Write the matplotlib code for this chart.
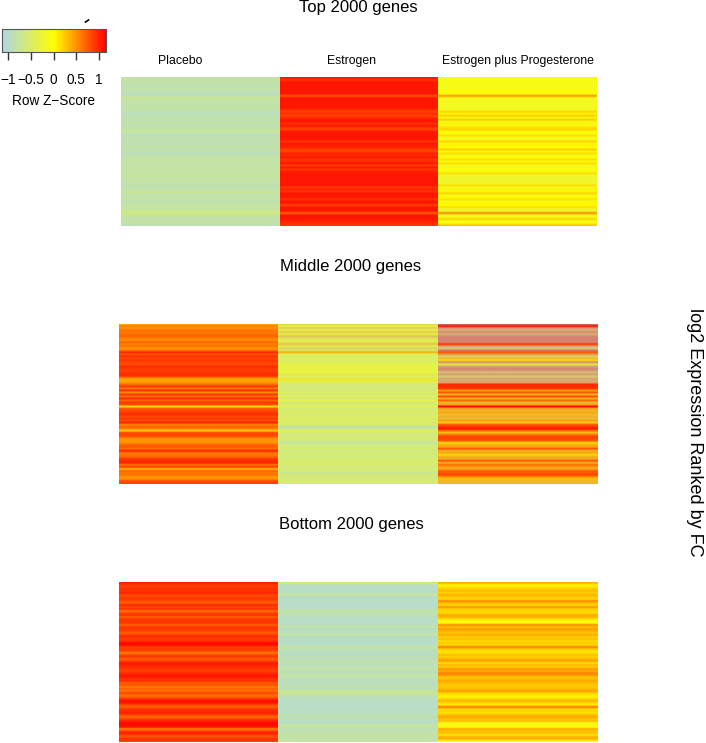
import numpy as np
import matplotlib
matplotlib.use('Agg')
import matplotlib.pyplot as plt
from matplotlib.colors import LinearSegmentedColormap, Normalize

plt.rcParams['font.family'] = ['Liberation Sans', 'DejaVu Sans']

# row z-scores, top row first
top_placebo = [-.85,-.8,-.85,-.85,-.9,-.85,-.85,-.9,-.95,-.9,
               -.7,-.85,-.85,-.85,-.85,-.85,-.85,-.9,-.95,-.9,
               -.85,-.9,-.85,-.85,-.9,-.85,-.8,-.75,-.9,-.95,
               -.85,-.9,-.85,-.9,-.85,-.85,-.9,-.85,-.95,-.85,
               -.85,-.85,-.8,-.85,-.85,-.8,-.85,-.8,-.8,-.8,
               -.8,-.85,-.8,-.9,-.85,-.9,-.8,-.8,-.75,-.9,
               -.8,-.8,-.9,-.8,-.85,-.8,-.8,-.7,-.65,-.75,
               -.8,-.9,-.8,-.85,-.9]
top_estrogen = [1.05,.9,1.05,1.05,1.05,1.05,1.05,1.05,1.05,.75,
                1.05,1.05,1.05,1.05,1.05,1.05,.95,.85,.95,.85,
                .95,1.05,1.05,.9,1.05,.9,.85,1.05,1.05,1.05,
                1.05,1.05,.9,1.05,1,1,.85,.85,1,.95,
                1.05,.9,.95,1.05,.85,1.05,.9,1,1.05,1.05,
                1.05,1.05,1.05,1.05,1.05,.9,1,.9,1.05,1.05,
                1.05,.9,1.05,1.05,.85,1.05,1.05,1.05,.7,1.05,
                1.05,1.05,1,.95,.9]
top_prog = [-.12,-.12,-.08,-.12,-.12,-.12,-.08,.0,-.12,.5,
            -.12,-.12,-.18,-.12,-.18,-.18,-.12,.2,.0,.25,
            .0,.25,-.12,.05,-.12,.15,.2,.0,-.08,.15,
            -.12,-.12,.2,-.08,.05,.0,.25,.0,.15,-.12,
            .0,.15,-.08,.15,-.12,-.18,.0,-.12,.15,-.22,
            -.22,-.22,-.22,-.22,.15,-.18,.05,-.12,.2,-.12,
            .0,.15,-.12,.05,.0,.15,-.22,-.22,.55,-.18,
            -.12,.2,-.12,-.08,.25]

mid_placebo = [.35,.6,.45,.65,.6,.65,.7,.6,.5,.7,
               .55,.65,.45,.6,1,.75,.95,.8,.9,.85,
               .8,.95,.9,.85,.9,.95,.9,.45,.4,.45,
               .65,.9,.6,.95,.5,.9,.65,.95,.7,.9,
               .8,.15,.75,.8,.9,.95,.8,.9,.8,1,
               .55,.7,.6,.2,.8,.85,.75,.5,.45,.5,
               .7,.75,.65,1,.65,.6,.7,.9,.95,1,
               .6,.9,.3,.7,.6,.65,.45,.5,.8,.85]
mid_estrogen_high = [.3,-.1,.35,-.1,.35,.0,.4,.2,-.1,.1,
                     .45,-.2,.3,-.2,.55,-.4,-.45,-.35,-.45,-.4,
                     -.38,-.35,-.35,-.35,-.3,.1,-.4,.1,.15,-.4,
                     -.6,-.6,-.6,-.6,-.5,-.6,-.45,-.6,-.35,-.6,
                     -.55,-.4,-.6,-.55,-.5,-.6,-.5,-.55,-.45,-.6,
                     -.5,-.85,-.8,-.35,-.55,-.65,-.6,-.55,-.65,-.85,
                     -.6,-.65,-.55,-.7,-.55,-.6,-.65,-.55,-.55,-.55,
                     -.55,-.65,-.6,-.55,-.8,-.55,-.65,-.6,-.55,-.55]
mid_estrogen_low = [-.9,-.5,-.9,-.5,-.9,-.6,-.9,-.9,-.7,-.8,
                    -.7,-.6,-.9,-.9,.2,-.5,-.6,-.5,-.6,-.5,
                    -.38,-.35,-.35,-.35,-.3,-.8,-.5,-.8,-.3,-.6,
                    -.6,-.6,-.6,-.6,-.5,-.6,-.45,-.6,-.35,-.6,
                    -.55,-.4,-.6,-.55,-.5,-.6,-.5,-.55,-.45,-.6,
                    -.5,-.85,-.8,-.35,-.55,-.65,-.6,-.55,-.65,-.85,
                    -.6,-.65,-.55,-.7,-.55,-.6,-.65,-.55,-.55,-.55,
                    -.55,-.65,-.6,-.55,-.8,-.55,-.65,-.6,-.55,-.55]
mid_prog_high = [1,1.1,.8,.5,.9,.5,.9,.95,.95,.9,
                 .95,.7,.2,1,.95,.9,.2,.6,.3,.9,
                 .1,.6,.9,.8,.4,.7,.3,.6,.6,.6,
                 1,1,.95,.65,.9,.6,.9,.7,.85,.6,
                 .8,1.1,.8,.6,.75,.5,.6,.55,.8,.4,
                 .8,.95,1.05,.8,.5,.75,.85,.85,.8,.15,
                 .7,.8,.95,.6,.8,.3,.75,.7,.85,.6,
                 .75,.85,.7,.9,.8,.9,.6,.5,.6,.55]
mid_prog_low = [-1.15,1.1,-1.15,-1.15,-1.15,-1.15,-1.15,-1.15,-1.15,-1.15,
                .9,-1.15,-1.15,-1.15,.6,-.6,-1.15,-.3,-.2,-1.15,
                -.6,-1.15,-1.15,-1.15,-1.15,-1.15,-1.15,-1.15,-1.15,-1.15,
                .9,.9,.9,.2,.6,-.3,.7,-.2,.5,-.4,
                -.2,1.1,-.3,-.4,-.2,-.4,-.5,-.5,-.1,-.3,
                .7,.85,1.05,.5,-.3,.5,.85,.8,.7,.15,
                -.2,-.1,.6,-.4,-.1,-.1,-.2,-.4,.7,-.4,
                .6,-.1,-.3,.6,.7,.8,.4,-.1,-.4,-.4]

bot_placebo = [1,.9,.85,.95,.9,1,.8,.85,.9,.8,
               .7,1,.8,.95,.6,.85,.95,.7,.9,.9,
               .9,.7,.9,.9,.85,.7,.9,.95,.85,.95,
               1.1,1.1,.85,.9,.85,.55,.85,.9,.7,.85,
               1.05,1,.95,.9,.85,.95,1.05,1.05,.9,.95,
               .7,.8,.55,.75,.6,.85,.65,.7,.95,1.1,
               1.05,.8,.7,.9,.95,1,.85,.65,.85,1,
               1.1,1.1,1.05,.55,.85,1.05,.85,.75,.95,.85]
bot_estrogen = [-.65,-.95,-1,-.95,-1,-.95,-.75,-1,-1,-.95,
                -1,-1,-1,-.95,-.8,-.9,-.85,-1,-.95,-1,
                -1,-.95,-.8,-1,-.95,-.9,-.8,-1,-.95,-1,
                -1,-.95,-.8,-.9,-.95,-.95,-1,-.9,-.95,-.85,
                -.9,-.95,-.9,-.8,-.95,-.9,-.8,-.9,-.9,-.95,
                -.95,-.95,-.85,-.95,-.75,-.7,-.85,-.95,-.95,-.95,
                -1,-1,-.95,-1,-.95,-1,-.8,-1,-.8,-1,
                -1,-.75,-.85,-.9,-.9,-.85,-.8,-.85,-.85,-.8]
bot_prog = [.35,.05,.1,.25,.3,.2,.35,.25,.15,.55,
            .3,.15,.5,.2,.2,.15,.4,.35,.15,-.05,
            -.05,.55,.25,.45,.35,.25,.4,.2,.3,.15,
            .25,.15,.6,.25,.1,.15,.3,.2,.35,.45,
            .1,.35,.2,.5,.35,.55,.5,.25,.3,.4,
            .3,.25,.25,.3,.45,.2,.1,.05,.2,.35,
            .15,.1,.65,.15,.2,.1,.3,.4,.25,.3,
            -.1,-.1,-.05,.4,.25,.3,.1,.35,.35,.0]

column_names = ['Placebo', 'Estrogen', 'Estrogen plus Progesterone']
bar_ticks = [-1, -0.5, 0, 0.5, 1]
bar_tick_labels = ['\u22121', '\u22120.5', '0', '0.5', '1']

W, H = 706, 743
cmap = LinearSegmentedColormap.from_list('bluered', ['lightblue', 'yellow', 'red'])
norm = Normalize(vmin=-1.15, vmax=1.15)


def stripes(values, values2=None):
    # two z-scores in one pixel row blend, like the squeezed heatmap in the original
    rgb = cmap(norm(np.array(values)))[:, :3]
    if values2 is not None:
        rgb = (rgb + cmap(norm(np.array(values2)))[:, :3]) / 2
    return rgb[:, None, :]


def panel_axes(x0, y0, x1, y1):
    ax = fig.add_axes([x0 / W, 1 - y1 / H, (x1 - x0) / W, (y1 - y0) / H])
    ax.axis('off')
    return ax


def draw_panel(x0, y0, x1, y1, columns):
    ax = panel_axes(x0, y0, x1, y1)
    for i, img in enumerate(columns):
        ax.imshow(img, extent=(i, i + 1, 0, 1), aspect='auto', interpolation='bilinear')
    ax.set_xlim(0, 3)
    ax.set_ylim(0, 1)


fig = plt.figure(figsize=(W / 100, H / 100), dpi=100)

draw_panel(121, 77, 597, 226, [stripes(top_placebo), stripes(top_estrogen), stripes(top_prog)])
draw_panel(119, 324, 597, 484, [stripes(mid_placebo), stripes(mid_estrogen_high, mid_estrogen_low),
                                stripes(mid_prog_high, mid_prog_low)])
draw_panel(119, 582, 597, 742, [stripes(bot_placebo), stripes(bot_estrogen), stripes(bot_prog)])

fig.text(358 / W, 1 - 7.5 / H, 'Top 2000 genes', ha='center', va='center', fontsize=12)
fig.text(351 / W, 1 - 266 / H, 'Middle 2000 genes', ha='center', va='center', fontsize=12)
fig.text(351 / W, 1 - 524 / H, 'Bottom 2000 genes', ha='center', va='center', fontsize=12)

for name, cx in zip(column_names, [180, 351, 518]):
    fig.text(cx / W, 1 - 61 / H, name, ha='center', va='center', fontsize=8.8)

fig.text(694.5 / W, 1 - 432 / H, 'log2 Expression Ranked by FC', rotation=270,
         ha='center', va='center', fontsize=13)

# colour key
key = panel_axes(1.5, 29, 105.5, 52)
key.axis('on')
key.imshow(np.linspace(-1.15, 1.15, 256)[None, :], cmap=cmap, norm=norm, aspect='auto',
           extent=(-1.15, 1.15, 0, 1))
key.set_yticks([])
key.set_xticks(bar_ticks, bar_tick_labels, fontsize=9.8)
key.tick_params(axis='x', length=6, width=1, color='#333333', pad=9)
for s in key.spines.values():
    s.set_color('#555555')
    s.set_linewidth(0.8)
key.set_xlabel('Row Z\u2212Score', fontsize=9.8, labelpad=5)

# little leftover of the density trace in the original
fig.add_artist(plt.Line2D([85.5 / W, 88.5 / W], [1 - 22 / H, 1 - 20 / H], color='black', lw=1.2))

fig.savefig('out.png', dpi=100)
